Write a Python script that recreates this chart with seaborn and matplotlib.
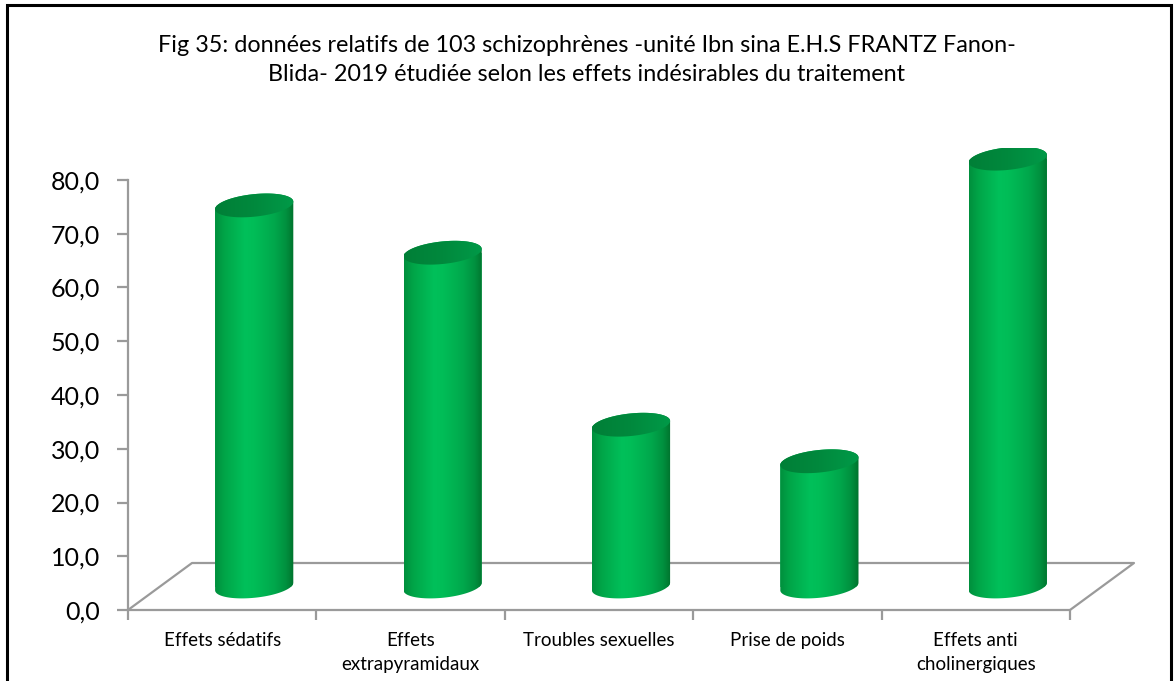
import numpy as np
import pandas as pd
import matplotlib
matplotlib.use("Agg")
import matplotlib.pyplot as plt
import seaborn as sns
from matplotlib.path import Path
from matplotlib.patches import PathPatch, Polygon, Rectangle
from matplotlib.colors import LinearSegmentedColormap
from matplotlib.lines import Line2D

# ---- data -------------------------------------------------------------
categories = ["Effets sédatifs", "Effets\nextrapyramidaux", "Troubles sexuelles",
              "Prise de poids", "Effets anti\ncholinergiques"]
values = [70.9, 62.1, 30.1, 23.3, 79.6]
y_ticks = [0, 10, 20, 30, 40, 50, 60, 70, 80]
title = ("Fig 35: données relatifs de 103 schizophrènes -unité Ibn sina E.H.S FRANTZ Fanon-\n"
         "Blida- 2019 étudiée selon les effets indésirables du traitement")

# ---- style ------------------------------------------------------------
sns.set_theme(style="white")
plt.rcParams["font.family"] = ["Lato", "DejaVu Sans"]

W, H, DPI = 1174, 681, 100
fig = plt.figure(figsize=(W / DPI, H / DPI), dpi=DPI)
fig.patch.set_facecolor("white")

# axes spans the front-left corner of the floor to the back-right corner
left_px, right_px, bottom_px, top_px = 128, 1135, 610, 148
ax = fig.add_axes([left_px / W, (H - bottom_px) / H,
                   (right_px - left_px) / W, (bottom_px - top_px) / H])
px_per_cat = 188.4
px_per_unit = 53.75 / 10
xmin = -0.5
xmax = xmin + (right_px - left_px) / px_per_cat
ymax = (bottom_px - top_px) / px_per_unit
ax.set_xlim(xmin, xmax)
ax.set_ylim(0, ymax)

# floor depth (oblique projection)
depth_dx = 64 / px_per_cat
depth_dy = 47 / px_per_unit
mid_dx, mid_dy = depth_dx / 2, depth_dy / 2

df = pd.DataFrame({"cat": categories, "val": values})
sns.barplot(data=df, x="cat", y="val", ax=ax, width=0.415, color="#00B050",
            saturation=1, zorder=3)
ax.set_xlim(xmin, xmax)
ax.set_ylim(0, ymax)

grey = "#9A9A9A"
# floor outline
n = len(categories)
ax.add_line(Line2D([xmin + n, xmin + n + depth_dx, xmin + depth_dx, xmin],
                   [0, depth_dy, depth_dy, 0], color=grey, lw=1.6, zorder=1,
                   clip_on=False))

# cylinder shading
body_cmap = LinearSegmentedColormap.from_list(
    "body", [(0.0, "#008F3D"), (0.12, "#00A548"), (0.38, "#00C05A"),
             (0.5, "#00BD57"), (0.75, "#00A84C"), (0.9, "#00913F"),
             (1.0, "#00722D")])
top_cmap = LinearSegmentedColormap.from_list(
    "top", [(0.0, "#007F37"), (0.5, "#00893D"), (1.0, "#009A48")])
grad = np.linspace(0, 1, 256).reshape(1, -1)

ell_b = 2.1       # half height of ellipses in value units
shear = 0.7       # perspective tilt of the ellipses
t_lo = np.linspace(np.pi, 2 * np.pi, 80)
t_hi = np.linspace(0, np.pi, 80)
t_all = np.linspace(0, 2 * np.pi, 160)

for p, v in zip(ax.patches, values):
    w = p.get_width()
    cx = p.get_x() + w / 2 + mid_dx
    a = w / 2
    cb = mid_dy
    ct = mid_dy + p.get_height()
    p.set_x(cx - a)
    p.set_y(cb)
    p.set_edgecolor("none")

    xs_lo = cx + a * np.cos(t_lo)
    ys_lo = cb + ell_b * np.sin(t_lo) + shear * np.cos(t_lo)
    xs_hi = cx + a * np.cos(t_hi)
    ys_hi = ct + ell_b * np.sin(t_hi) + shear * np.cos(t_hi)
    verts = np.vstack([np.column_stack([xs_lo, ys_lo]),
                       np.column_stack([xs_hi, ys_hi]),
                       [[xs_lo[0], ys_lo[0]]]])
    body = PathPatch(Path(verts, closed=True), facecolor="none",
                     edgecolor="none", transform=ax.transData, zorder=3)
    ax.add_patch(body)
    p.set_clip_path(body)
    im = ax.imshow(grad, cmap=body_cmap, aspect="auto", zorder=4,
                   extent=[cx - a, cx + a, cb - ell_b - 1, ct + ell_b + 1])
    im.set_clip_path(body)

    xs_t = cx + a * np.cos(t_all)
    ys_t = ct + ell_b * np.sin(t_all) + shear * np.cos(t_all)
    top = Polygon(np.column_stack([xs_t, ys_t]), closed=True, facecolor="none",
                  edgecolor="none", transform=ax.transData, zorder=5)
    ax.add_patch(top)
    im2 = ax.imshow(grad, cmap=top_cmap, aspect="auto", zorder=5,
                    extent=[cx - a, cx + a, ct - ell_b - 1, ct + ell_b + 1])
    im2.set_clip_path(top)

ax.set_xlim(xmin, xmax)
ax.set_ylim(0, ymax)

# axes styling
for s in ["top", "right", "bottom"]:
    ax.spines[s].set_visible(False)
ax.spines["left"].set_color(grey)
ax.spines["left"].set_linewidth(1.6)
ax.spines["left"].set_bounds(0, 80)
ax.add_line(Line2D([xmin, xmin + n], [0, 0], color=grey, lw=1.6, zorder=2,
                   clip_on=False))

ax.set_yticks(y_ticks)
ax.set_yticklabels([f"{t:.1f}".replace(".", ",") for t in y_ticks],
                   fontsize=18, color="black")
ax.tick_params(axis="y", direction="out", length=8, width=1.6, color=grey,
               pad=12, left=True)

ax.set_xticks([xmin + i for i in range(n + 1)], minor=True)
ax.set_xticks(range(n))
ax.set_xticklabels(categories, fontsize=13.5, color="black", linespacing=1.45)
ax.tick_params(axis="x", which="major", length=0, pad=16)
ax.tick_params(axis="x", which="minor", direction="out", length=7, width=1.6,
               color=grey, bottom=True)
ax.set_xlabel("")
ax.set_ylabel("")
ax.grid(False)

fig.text(0.5, 1 - 60 / H, title, ha="center", va="center", fontsize=16.8,
         color="black", linespacing=1.45)

# chart frame
fig.add_artist(Rectangle((6.5 / W, -0.1), (1171 - 6.5) / W, 1.1 - 5.5 / H,
                         transform=fig.transFigure, fill=False,
                         edgecolor="black", lw=2.2))

fig.savefig("out.png", dpi=DPI, facecolor="white")
